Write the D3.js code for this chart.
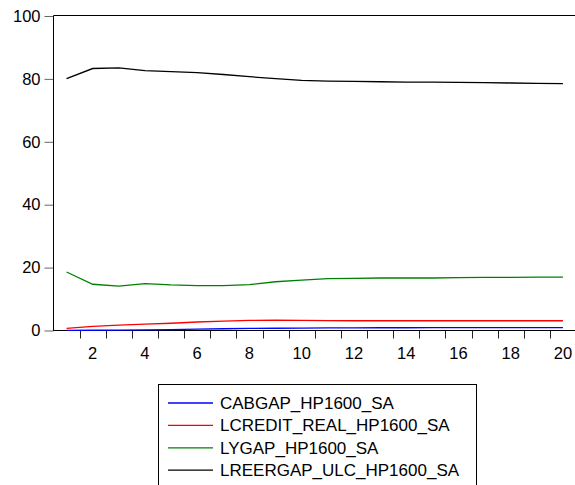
<!DOCTYPE html>
<html>
<head>
<meta charset="utf-8">
<script src="https://cdn.jsdelivr.net/npm/d3@7"></script>
<style>
  body { margin: 0; background: #fff; }
  text { font-family: "Liberation Sans", Arial, sans-serif; }
</style>
</head>
<body>
<div id="chart"></div>
<script>
// periods 1..20
const periods = d3.range(1, 21);

const seriesNames = ["CABGAP_HP1600_SA", "LCREDIT_REAL_HP1600_SA", "LYGAP_HP1600_SA", "LREERGAP_ULC_HP1600_SA"];
const seriesColors = ["#0000ff", "#ff0000", "#008000", "#000000"];

const cabgap = [0.05, 0.08, 0.12, 0.2, 0.3, 0.42, 0.55, 0.65, 0.72, 0.78, 0.82, 0.85, 0.87, 0.88, 0.89, 0.9, 0.9, 0.91, 0.91, 0.92];
const lcredit = [0.7, 1.3, 1.7, 2.0, 2.3, 2.7, 3.0, 3.2, 3.3, 3.2, 3.15, 3.1, 3.1, 3.1, 3.1, 3.1, 3.1, 3.1, 3.1, 3.1];
const lygap = [18.6, 14.7, 14.1, 14.9, 14.5, 14.3, 14.3, 14.6, 15.5, 16.0, 16.5, 16.6, 16.7, 16.7, 16.7, 16.8, 16.9, 16.9, 17.0, 17.0];
const lreergap = [80.1, 83.3, 83.5, 82.6, 82.3, 82.0, 81.4, 80.7, 80.1, 79.5, 79.3, 79.2, 79.1, 79.0, 79.0, 78.9, 78.8, 78.7, 78.6, 78.5];

const yTicks = [0, 20, 40, 60, 80, 100];
const xLabels = [2, 4, 6, 8, 10, 12, 14, 16, 18, 20];

const allSeries = [cabgap, lcredit, lygap, lreergap];

const width = 575, height = 485;
const svg = d3.select("#chart").append("svg")
  .attr("width", width)
  .attr("height", height);

const x = d3.scaleLinear().domain([0.5, 20.5]).range([53.5, 576]);
const y = d3.scaleLinear().domain([0, 100]).range([330.5, 16]);

// y axis
const yAxis = d3.axisLeft(y).tickValues(yTicks).tickSize(9).tickPadding(4).tickFormat(d3.format("d"));
const gy = svg.append("g").attr("transform", "translate(53.5,0)").call(yAxis);
gy.select(".domain").remove();
gy.selectAll("line").attr("stroke", "#666");
gy.selectAll("text").attr("font-size", "16.5px").attr("fill", "#000")
  .attr("font-family", "Liberation Sans, Arial, sans-serif");

// x axis: ticks between periods, labels at even periods
const tickPos = d3.range(1.5, 21, 1);
svg.append("g").selectAll("line")
  .data(tickPos)
  .join("line")
  .attr("x1", d => Math.round(x(d)) + 0.5)
  .attr("x2", d => Math.round(x(d)) + 0.5)
  .attr("y1", y(0))
  .attr("y2", y(0) + 8)
  .attr("stroke", "#222");

svg.append("g").selectAll("text")
  .data(xLabels)
  .join("text")
  .attr("x", d => x(d))
  .attr("y", y(0) + 28)
  .attr("text-anchor", "middle")
  .attr("font-size", "16.5px")
  .text(d => d);

// frame: left, top, bottom
svg.append("line").attr("x1", 53.5).attr("x2", 53.5).attr("y1", 15.5).attr("y2", 331).attr("stroke", "#000");
svg.append("line").attr("x1", 53.5).attr("x2", 576).attr("y1", 15.5).attr("y2", 15.5).attr("stroke", "#000");
svg.append("line").attr("x1", 53.5).attr("x2", 576).attr("y1", 330.5).attr("y2", 330.5).attr("stroke", "#000");

// lines
const line = d3.line()
  .x((d, i) => x(periods[i]))
  .y(d => y(d));

svg.append("g").selectAll("path")
  .data(allSeries)
  .join("path")
  .attr("d", d => line(d))
  .attr("fill", "none")
  .attr("stroke", (d, i) => seriesColors[i])
  .attr("stroke-width", 1.3);

// legend
const legend = svg.append("g");
legend.append("rect")
  .attr("x", 158.5).attr("y", 384.5)
  .attr("width", 318).attr("height", 110)
  .attr("fill", "none").attr("stroke", "#000");

const rows = legend.selectAll("g.row")
  .data(seriesNames)
  .join("g")
  .attr("class", "row")
  .attr("transform", (d, i) => `translate(0,${403 + i * 22.4})`);

rows.append("line")
  .attr("x1", 168).attr("x2", 213)
  .attr("y1", 0).attr("y2", 0)
  .attr("stroke", (d, i) => seriesColors[i])
  .attr("stroke-width", 1.3);

rows.append("text")
  .attr("x", 220)
  .attr("y", 6)
  .attr("font-size", "17px")
  .text(d => d);
</script>
</body>
</html>
